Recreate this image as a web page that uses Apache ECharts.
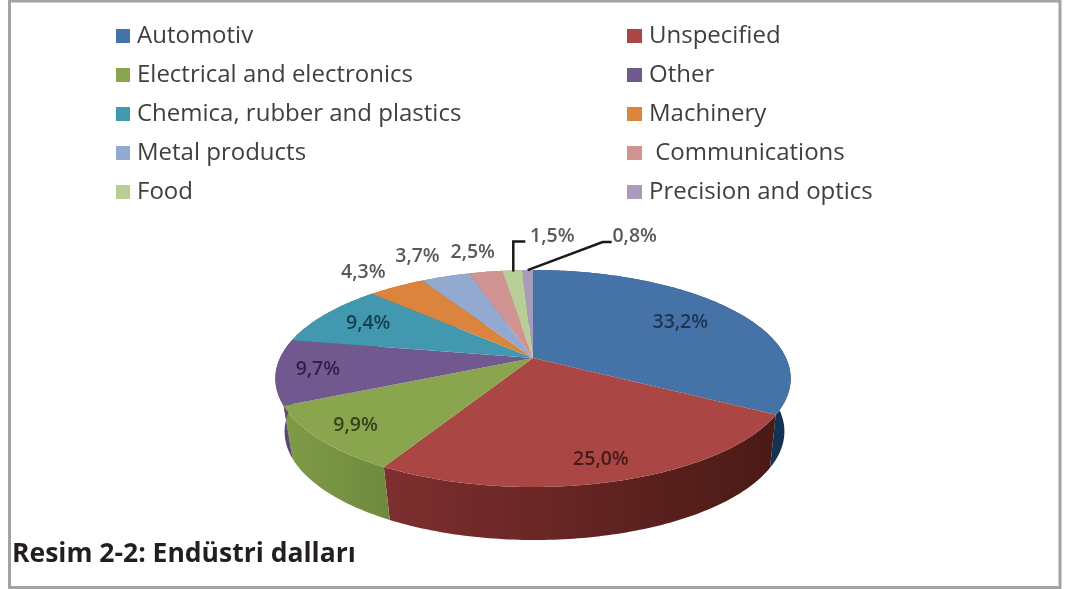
<!DOCTYPE html>
<html>
<head>
<meta charset="utf-8">
<style>
html,body{margin:0;padding:0;background:#fff}
#chart{width:1073px;height:589px;filter:blur(0.55px)}
</style>
<script src="https://cdn.jsdelivr.net/npm/echarts@6/dist/echarts.min.js"></script>
</head>
<body>
<div id="chart"></div>
<script>
const categories = ['Automotiv','Unspecified','Electrical and electronics','Other','Chemica, rubber and plastics','Machinery','Metal products',' Communications','Food','Precision and optics'];
const values = [33.2,25.0,9.9,9.7,9.4,4.3,3.7,2.5,1.5,0.8];
const caption = 'Resim 2-2: Endüstri dalları';

const topColors = ['#4572a7','#aa4643','#89a54e','#71588f','#4198af','#db843d','#93a9cf','#d19392','#b9cd96','#a99bbd'];
const wallColors = [['#1b4268','#133252'],['#7e2f2f','#4a1a16'],['#7f9b47','#6f8a3e'],['#5e4678','#5e4678'],['#2c7186','#2c7186'],['#a8642c','#a8642c'],['#6f82a0','#6f82a0'],['#a06f6f','#a06f6f'],['#8da072','#8da072'],['#807591','#807591']];
const labelColors = ['#1d3552','#451a18','#33431a','#33204f','#14414f','#595959','#595959','#595959','#595959','#595959'];
// label placement: inside labels use a radial factor; outside labels use an offset from the rim
const labelRadius = [0.72,0.85,0.85,0.84,0.78,1,1,1,1,1];
const labelOffset = [[0,0],[0,0],[0,0],[0,0],[0,0],[-33,-14],[-28,-20],[-13,-19],[40,-34],[107,-34]];
const leaders = {8:[[1,1],[1,-29],[13,-29]], 9:[[0,0],[75,-28],[84,-28]]};

const C = {x:533, y:358, a:253, b:104.6, k:0.189, depth:53, shrink:0.97, shift:1.5};
const total = values.reduce((s,v)=>s+v,0);
function proj(theta,r){
  const u=r*Math.sin(theta), v=-r*Math.cos(theta), w=1-C.k*v;
  return [C.x+C.a*u/w, C.y+C.b*v/w];
}
function bottom(p){ return [C.x+C.shift+(p[0]-C.x)*C.shrink, p[1]+C.depth]; }

function renderSlice(index){
  return function(params, api){
    const before = values.slice(0,index).reduce((s,v)=>s+v,0);
    const val = api.value(0);
    const a0 = before/total*2*Math.PI, a1 = (before+val)/total*2*Math.PI;
    const n = Math.max(4,Math.ceil((a1-a0)*60));
    const arc=[];
    for(let i=0;i<=n;i++) arc.push(proj(a0+(a1-a0)*i/n,1));
    const mid=(a0+a1)/2;
    const children=[];
    children.push({type:'polygon',z2:1,silent:true,
      shape:{points:arc.concat(arc.map(bottom).reverse())},
      style:{fill:new echarts.graphic.LinearGradient(0,0,1,0,[{offset:0,color:wallColors[index][0]},{offset:1,color:wallColors[index][1]}])}});
    children.push({type:'polygon',z2:2,shape:{points:[[C.x,C.y]].concat(arc)},style:{fill:topColors[index]}});
    const rim=proj(mid,1);
    const lp=proj(mid,labelRadius[index]);
    const o=labelOffset[index];
    children.push({type:'text',z2:4,x:lp[0]+o[0],y:lp[1]+o[1],style:{
      text:val.toFixed(1).replace('.',',')+'%',fill:labelColors[index],
      font:'600 19.5px "Open Sans"',align:'center',verticalAlign:'middle'}});
    if(leaders[index]){
      children.push({type:'polyline',z2:3,silent:true,
        shape:{points:leaders[index].map(d=>[rim[0]+d[0],rim[1]+d[1]])},
        style:{stroke:'#1a1a1a',lineWidth:2.5,fill:null}});
    }
    return {type:'group',children};
  };
}

const legendText = {color:'#3f3f3f',fontFamily:'Open Sans',fontSize:24,lineHeight:26,padding:[0,0,0,2]};
const chart = echarts.init(document.getElementById('chart'),null,{renderer:'canvas'});
chart.setOption({
  animation:false,
  backgroundColor:'#fff',
  title:{text:caption,left:12,top:541,padding:0,textStyle:{fontFamily:'Open Sans',fontWeight:'bold',fontSize:26.5,color:'#231f20'}},
  legend:[
    {left:116,top:23,orient:'vertical',icon:'rect',itemWidth:14,itemHeight:14,itemGap:13,selectedMode:false,textStyle:legendText,padding:0,
     data:categories.filter((c,i)=>i%2===0)},
    {left:627,top:23,orient:'vertical',icon:'rect',itemWidth:15,itemHeight:14,itemGap:13,selectedMode:false,textStyle:legendText,padding:0,
     data:categories.filter((c,i)=>i%2===1)}
  ],
  graphic:[{type:'rect',shape:{x:9.5,y:1,width:1050.5,height:586.5},style:{fill:null,stroke:'#a3a3a3',lineWidth:3},silent:true}],
  series:categories.map((name,i)=>({
    type:'custom',name,coordinateSystem:'none',
    itemStyle:{color:topColors[i]},
    renderItem:renderSlice(i),
    data:[[values[i]]]
  }))
});
</script>
</body>
</html>
